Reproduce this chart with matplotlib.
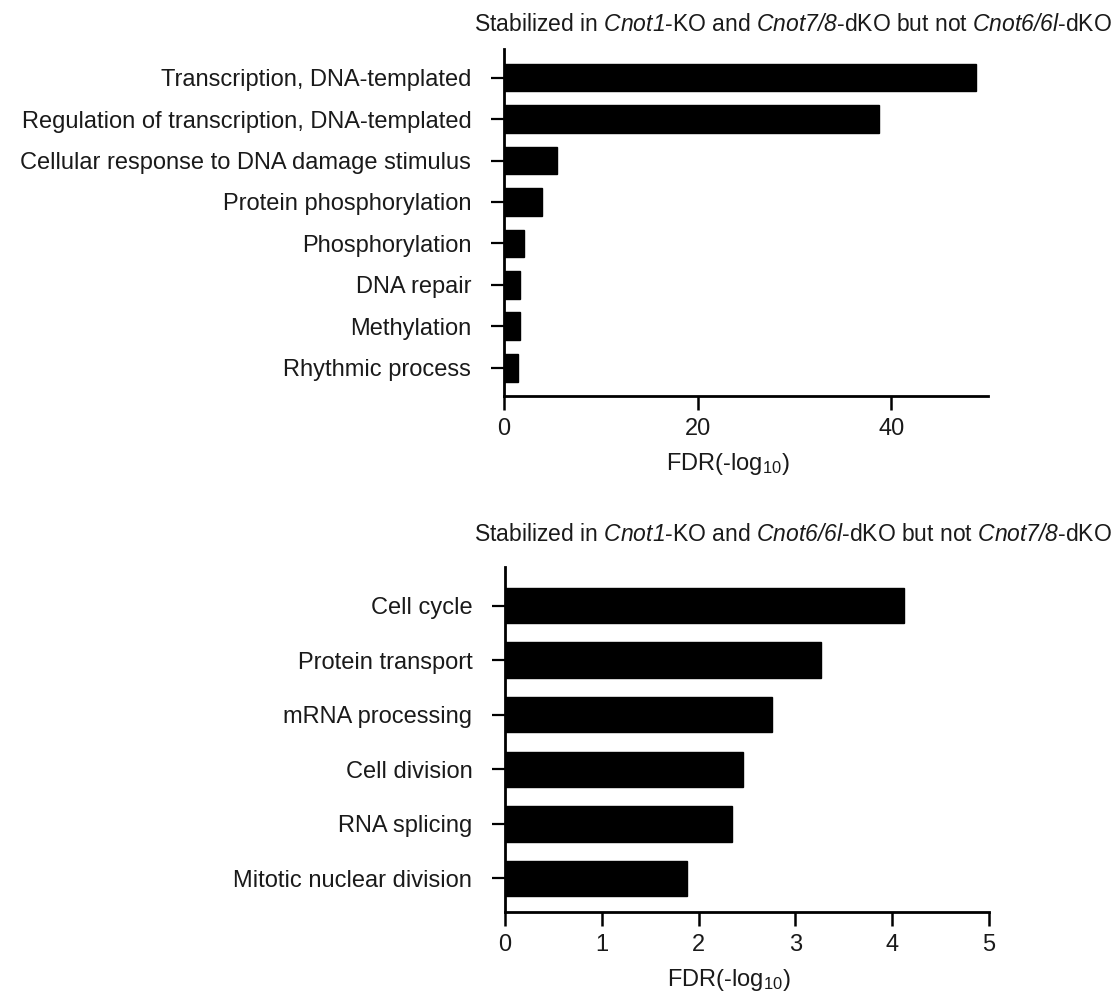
import matplotlib
matplotlib.use("Agg")
import matplotlib.pyplot as plt

plt.rcParams["font.family"] = ["Liberation Sans", "DejaVu Sans"]
plt.rcParams["mathtext.fontset"] = "custom"
plt.rcParams["mathtext.rm"] = "Liberation Sans"
plt.rcParams["mathtext.it"] = "Liberation Sans:italic"
plt.rcParams["mathtext.bf"] = "Liberation Sans:bold"
# italic face used for gene names (keeps digits italic too)
plt.rcParams["mathtext.sf"] = "Liberation Sans:italic"

# GO terms stabilized in Cnot1-KO and Cnot7/8-dKO only
terms_top = [
    "Transcription, DNA-templated",
    "Regulation of transcription, DNA-templated",
    "Cellular response to DNA damage stimulus",
    "Protein phosphorylation",
    "Phosphorylation",
    "DNA repair",
    "Methylation",
    "Rhythmic process",
]
fdr_top = [48.75, 38.75, 5.5, 3.95, 2.05, 1.7, 1.65, 1.4]
xticks_top = [0, 20, 40]

# GO terms stabilized in Cnot1-KO and Cnot6/6l-dKO only
terms_bottom = [
    "Cell cycle",
    "Protein transport",
    "mRNA processing",
    "Cell division",
    "RNA splicing",
    "Mitotic nuclear division",
]
fdr_bottom = [4.12, 3.26, 2.76, 2.46, 2.35, 1.88]
xticks_bottom = [0, 1, 2, 3, 4, 5]

title_top = r"Stabilized in $\mathsf{Cnot1}$-KO and $\mathsf{Cnot7/8}$-dKO but not $\mathsf{Cnot6/6l}$-dKO"
title_bottom = r"Stabilized in $\mathsf{Cnot1}$-KO and $\mathsf{Cnot6/6l}$-dKO but not $\mathsf{Cnot7/8}$-dKO"
xlabel = r"FDR(-log$_{10}$)"

W, H = 1120, 998
fig = plt.figure(figsize=(W / 100, H / 100), dpi=100)
FS = 17
TXT = "#1a1a1a"


def style_axes(ax, terms, values, xticks, xmax, bar_h, ylim):
    pos = list(range(len(terms)))
    ax.barh(pos, values, height=bar_h, color="black", edgecolor="black")
    ax.set_yticks(pos)
    ax.set_yticklabels(terms, fontsize=FS, color=TXT)
    ax.set_ylim(*ylim)
    ax.set_xlim(0, xmax)
    ax.set_xticks(xticks)
    ax.set_xticklabels([str(t) for t in xticks], fontsize=FS, color=TXT)
    ax.set_xlabel(xlabel, fontsize=FS, color=TXT)
    for s in ("top", "right"):
        ax.spines[s].set_visible(False)
    for s in ("left", "bottom"):
        ax.spines[s].set_linewidth(2.0)
    ax.tick_params(axis="y", direction="out", length=9.5, width=1.6, pad=14)
    ax.tick_params(axis="x", direction="out", length=10, width=1.8, pad=6)


ax1 = fig.add_axes([504 / W, 1 - 396 / H, (988 - 504) / W, (396 - 49) / H])
style_axes(ax1, terms_top, fdr_top, xticks_top, 50, 0.67, (7.68, -0.69))

ax2 = fig.add_axes([505 / W, 1 - 911.7 / H, (989 - 505) / W, (911.7 - 567.3) / H])
style_axes(ax2, terms_bottom, fdr_bottom, xticks_bottom, 5, 0.65, (5.61, -0.70))

# keep both x-axis labels at the same pixel offset below their axes
for ax in (ax1, ax2):
    h_px = ax.get_position().height * H
    ax.xaxis.set_label_coords(0.463, -74 / h_px)
    ax.xaxis.label.set_va("baseline")

fig.text(1112 / W, 1 - 31 / H, title_top, fontsize=16.5, ha="right", va="baseline",
         color=TXT)
fig.text(1112 / W, 1 - 541 / H, title_bottom, fontsize=16.5, ha="right", va="baseline",
         color=TXT)

fig.savefig("out.png", dpi=100, facecolor="white")
